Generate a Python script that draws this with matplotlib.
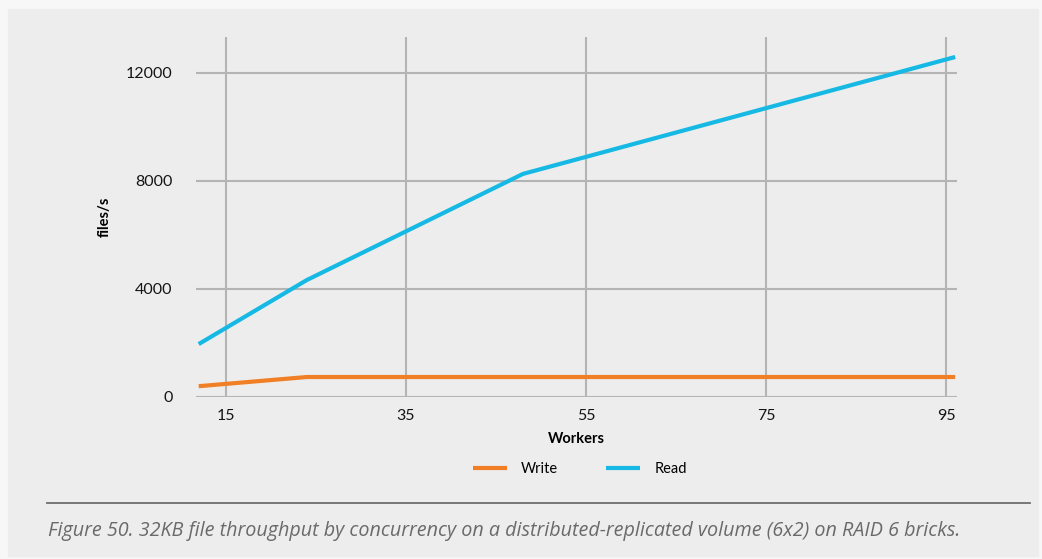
import matplotlib.pyplot as plt
from matplotlib.patches import Rectangle

workers = [12, 24, 48, 96]
write_rate = [400, 740, 740, 740]
read_rate = [1960, 4330, 8260, 12590]
x_ticks = [15, 35, 55, 75, 95]
y_ticks = [0, 4000, 8000, 12000]
caption = ("Figure 50. 32KB file throughput by concurrency on a "
           "distributed-replicated volume (6x2) on RAID 6 bricks.")

W, H = 1042, 559
fig = plt.figure(figsize=(W / 100, H / 100), dpi=100, facecolor='#f7f7f7')
plt.rcParams['font.family'] = ['Lato', 'DejaVu Sans']

# grey panel behind everything
fig.patches.append(Rectangle((8 / W, 3 / H), 1030 / W, 547 / H,
                             transform=fig.transFigure, color='#ededed', zorder=-10))

ax = fig.add_axes([196 / W, 1 - 397 / H, (957 - 196) / W, (397 - 37) / H])
ax.set_facecolor('none')

ax.plot(workers, write_rate, color='#f07f25', lw=3, label='Write', solid_capstyle='butt')
ax.plot(workers, read_rate, color='#16b9e4', lw=3, label='Read', solid_capstyle='butt')

ax.set_xlim(11.7, 96.2)
ax.set_ylim(0, 13330)
ax.set_xticks(x_ticks)
ax.set_yticks(y_ticks)
ax.grid(True, color='#b4b4b4', lw=1.5)
ax.set_axisbelow(True)
for s in ax.spines.values():
    s.set_visible(False)
ax.tick_params(length=0, labelsize=11.5, colors='#151515')
ax.tick_params(axis='x', pad=9)
ax.tick_params(axis='y', pad=17)

ax.set_xlabel('Workers', fontsize=10.5, fontweight='bold', labelpad=6)
ax.set_ylabel('files/s', fontsize=10.5, fontweight='bold', labelpad=10)

ax.legend(loc='center', bbox_to_anchor=(580 / W, 1 - 469 / H),
          bbox_transform=fig.transFigure, ncol=2, frameon=False,
          fontsize=10.5, handlelength=2.3, columnspacing=3.3, handletextpad=1.0)

fig.add_artist(plt.Line2D([47 / W, 1030 / W], [1 - 503 / H, 1 - 503 / H],
                          transform=fig.transFigure, color='#6e6e6e', lw=1.3))
fig.text(48 / W, 1 - 531 / H, caption, fontsize=14.2, style='italic',
         color='#6a6a6a', va='center', ha='left', family=['Open Sans', 'DejaVu Sans'])

fig.savefig('out.png', dpi=100, facecolor=fig.get_facecolor())
